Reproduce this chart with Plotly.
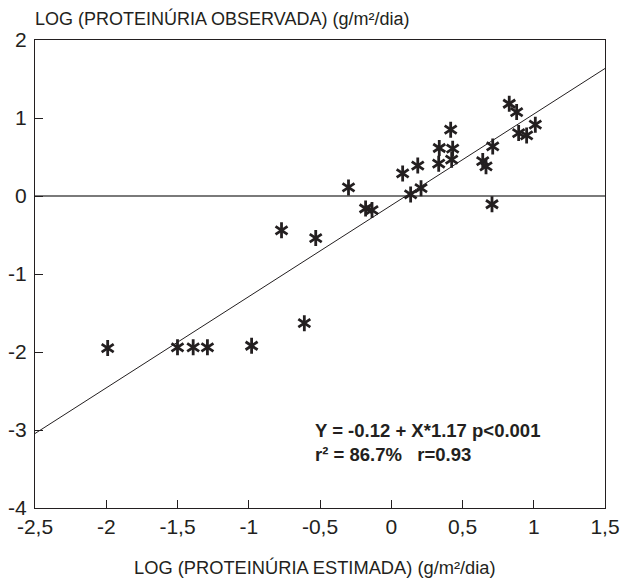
import plotly.graph_objects as go

# Observed data (log estimated vs log observed proteinuria)
x_est = [-1.99, -1.50, -1.39, -1.29, -0.98, -0.61, -0.77, -0.53, -0.30, -0.18,
         -0.135, 0.08, 0.136, 0.186, 0.209, 0.337, 0.333, 0.417, 0.431, 0.424,
         0.642, 0.665, 0.712, 0.707, 0.828, 0.880, 0.894, 0.950, 1.011]
y_obs = [-1.95, -1.94, -1.94, -1.94, -1.92, -1.63, -0.44, -0.54, 0.11, -0.16,
         -0.18, 0.29, 0.02, 0.39, 0.10, 0.615, 0.415, 0.85, 0.607, 0.466,
         0.448, 0.38, 0.636, -0.106, 1.183, 1.076, 0.807, 0.777, 0.914]

intercept = -0.12
slope = 1.17
x_fit = [-2.5, 1.5]
y_fit = [intercept + slope * v for v in x_fit]

x_ticks = [-2.5, -2, -1.5, -1, -0.5, 0, 0.5, 1, 1.5]
x_tick_labels = ["-2,5", "-2", "-1,5", "-1", "-0,5", "0", "0,5", "1", "1,5"]
y_ticks = [2, 1, 0, -1, -2, -3, -4]
y_tick_labels = ["2", "1", "0", "-1", "-2", "-3", "-4"]

y_title = "LOG (PROTEINÚRIA OBSERVADA) (g/m²/dia)"
x_title = "LOG (PROTEINÚRIA ESTIMADA) (g/m²/dia)"
stats_text = "Y = -0.12 + X*1.17 p<0.001<br>r² = 86.7%   r=0.93"

FONT = "Liberation Sans, Arial, Helvetica, sans-serif"
INK = "#231f20"

fig = go.Figure()
fig.add_trace(go.Scatter(x=x_fit, y=y_fit, mode="lines",
                         line=dict(color=INK, width=1), showlegend=False,
                         hoverinfo="skip"))
for sym in ["y-up-open", "y-down-open"]:
    fig.add_trace(go.Scatter(x=x_est, y=y_obs, mode="markers",
                             marker=dict(symbol=sym, size=10,
                                         line=dict(color=INK, width=2.8),
                                         color=INK),
                             showlegend=False))

fig.add_annotation(text=stats_text, x=-0.549, y=-3.154, xref="x", yref="y",
                   xanchor="left", yanchor="middle", align="left",
                   showarrow=False,
                   font=dict(family=FONT, size=18.5, color=INK, weight="bold"))
fig.add_annotation(text=y_title, x=0, y=1, xref="paper", yref="paper",
                   xanchor="left", yanchor="middle", yshift=22, xshift=-2,
                   showarrow=False, font=dict(family=FONT, size=18, color=INK))
fig.add_annotation(text=x_title, x=0.491, y=0, xref="paper", yref="paper",
                   xanchor="center", yanchor="middle", yshift=-59,
                   showarrow=False, font=dict(family=FONT, size=18.3, color=INK))

fig.update_layout(
    width=624, height=583,
    margin=dict(l=35, r=19, t=39.5, b=75),
    paper_bgcolor="white", plot_bgcolor="white",
    font=dict(family=FONT, color=INK),
    xaxis=dict(range=[-2.5, 1.5], tickvals=x_ticks, ticktext=x_tick_labels,
               ticks="inside", ticklen=8, tickcolor=INK, tickwidth=1,
               showline=True, linecolor=INK, linewidth=1, mirror=True,
               showgrid=False, zeroline=False, automargin=False,
               tickfont=dict(size=21, color=INK, family=FONT)),
    yaxis=dict(range=[-4, 2], tickvals=y_ticks, ticktext=y_tick_labels,
               ticks="inside", ticklen=8, tickcolor=INK, tickwidth=1,
               showline=True, linecolor=INK, linewidth=1, mirror=True,
               showgrid=False, zeroline=True, zerolinecolor="#7a7a7a",
               zerolinewidth=2, automargin=False, ticklabelstandoff=3,
               tickfont=dict(size=21, color=INK, family=FONT)),
)

fig.write_html("out.html",
               config={"displayModeBar": False},
               post_script="document.body.style.margin='0';"
                           "document.body.style.overflow='hidden';")
